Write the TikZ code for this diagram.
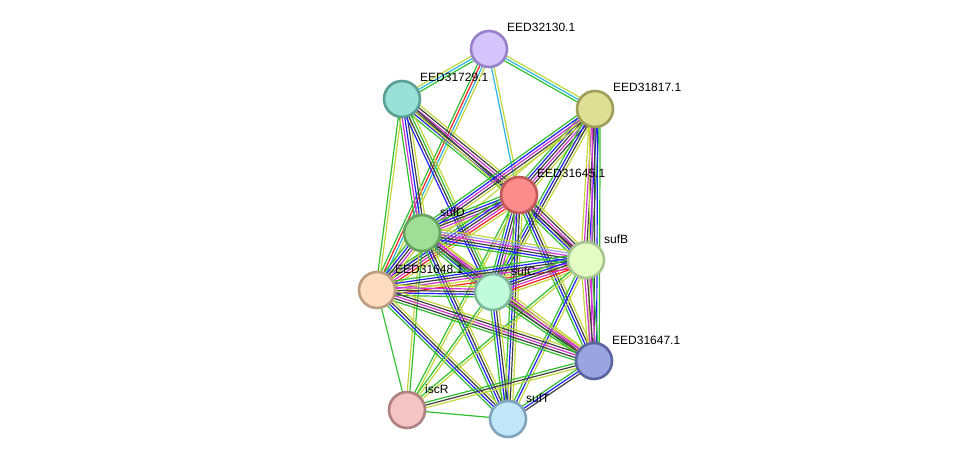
\documentclass[tikz,border=0pt]{standalone}
\usepackage{fontspec}
\setmainfont{Liberation Sans}
\usetikzlibrary{calc,backgrounds}
\definecolor{eg}{HTML}{2FC02F}
\definecolor{eb}{HTML}{2020FF}
\definecolor{ek}{HTML}{404040}
\definecolor{em}{HTML}{D233D2}
\definecolor{ey}{HTML}{C2D63A}
\definecolor{ec}{HTML}{2AB4E0}
\definecolor{er}{HTML}{FF2020}
\definecolor{ep}{HTML}{9E9EF5}
\tikzset{
  prot/.style={circle, minimum size=36pt, inner sep=0pt, line width=2.6pt},
  plabel/.style={anchor=base west, font=\fontsize{12pt}{14pt}\selectfont, text=black, inner sep=0pt},
  elink/.style={line width=1.2pt}
}
\newcommand\sedge[4]{%
  \foreach \col [count=\ii] in {#4}{%
    \pgfmathsetmacro\off{(\ii-(#3+1)/2)*2.6}%
    \draw[elink, color=e\col] ($(#1)!\off pt!90:(#2)$) -- ($(#2)!\off pt!-90:(#1)$);
  }}
\begin{document}
\begin{tikzpicture}[x=1pt,y=-1pt]
\useasboundingbox (0,0) rectangle (976,465);
% nodes
\node[prot, fill={rgb,255:red,212;green,196;blue,252}, draw={rgb,255:red,150;green,128;blue,200}] (A) at (489,49) {};
\node[prot, fill={rgb,255:red,153;green,224;blue,214}, draw={rgb,255:red,90;green,158;blue,150}] (B) at (402,99) {};
\node[prot, fill={rgb,255:red,222;green,222;blue,148}, draw={rgb,255:red,158;green,158;blue,90}] (C) at (595,109) {};
\node[prot, fill={rgb,255:red,252;green,140;blue,140}, draw={rgb,255:red,192;green,88;blue,88}] (D) at (519,195) {};
\node[prot, fill={rgb,255:red,158;green,222;blue,150}, draw={rgb,255:red,100;green,164;blue,94}] (E) at (422,233) {};
\node[prot, fill={rgb,255:red,226;green,252;blue,196}, draw={rgb,255:red,168;green,196;blue,144}] (F) at (586,260) {};
\node[prot, fill={rgb,255:red,254;green,220;blue,192}, draw={rgb,255:red,188;green,156;blue,128}] (G) at (377,290) {};
\node[prot, fill={rgb,255:red,192;green,252;blue,220}, draw={rgb,255:red,128;green,184;blue,156}] (H) at (493,292) {};
\node[prot, fill={rgb,255:red,154;green,164;blue,224}, draw={rgb,255:red,90;green,100;blue,160}] (I) at (594,361) {};
\node[prot, fill={rgb,255:red,244;green,196;blue,196}, draw={rgb,255:red,176;green,128;blue,128}] (J) at (407,410) {};
\node[prot, fill={rgb,255:red,194;green,230;blue,250}, draw={rgb,255:red,128;green,164;blue,188}] (K) at (508,419) {};
% labels
\node[plabel] (lA) at (507,32) {EED32130.1};
\node[plabel] (lB) at (420,82) {EED31729.1};
\node[plabel] (lC) at (613,92) {EED31817.1};
\node[plabel] (lD) at (537,178) {EED31645.1};
\node[plabel] (lE) at (440,216) {sufD};
\node[plabel] (lF) at (604,243) {sufB};
\node[plabel] (lG) at (395,273) {EED31648.1};
\node[plabel] (lH) at (511,275) {sufC};
\node[plabel] (lI) at (612,344) {EED31647.1};
\node[plabel] (lJ) at (425,393) {iscR};
\node[plabel] (lK) at (526,402) {sufT};
% edges
\begin{pgfonlayer}{background}
\sedge{A}{B}{3}{y,c,g}
\sedge{A}{C}{3}{g,c,y}
\sedge{A}{D}{2}{c,y}
\sedge{A}{G}{4}{g,r,c,y}
\sedge{B}{D}{6}{g,b,k,m,k,y}
\sedge{B}{E}{5}{g,m,b,k,y}
\sedge{B}{G}{2}{g,y}
\sedge{B}{H}{4}{b,k,g,y}
\sedge{B}{F}{2}{y,k}
\sedge{C}{D}{6}{g,b,k,m,k,y}
\sedge{C}{E}{5}{g,b,m,k,y}
\sedge{C}{F}{5}{y,m,k,b,g}
\sedge{C}{I}{5}{y,m,k,b,g}
\sedge{C}{H}{4}{g,b,k,y}
\sedge{C}{G}{1}{y}
\sedge{D}{E}{5}{g,b,k,m,y}
\sedge{D}{F}{6}{g,b,k,m,k,y}
\sedge{D}{G}{6}{g,b,k,m,r,y}
\sedge{D}{H}{5}{g,b,k,m,y}
\sedge{D}{I}{4}{g,b,k,y}
\sedge{D}{K}{4}{g,b,k,y}
\sedge{D}{J}{2}{g,y}
\sedge{E}{F}{6}{g,b,k,m,p,y}
\sedge{E}{G}{5}{g,b,k,m,y}
\sedge{E}{H}{5}{g,b,k,m,y}
\sedge{E}{I}{4}{g,k,m,y}
\sedge{E}{K}{4}{g,b,k,y}
\sedge{E}{J}{2}{y,g}
\sedge{F}{G}{6}{g,b,k,m,y,r}
\sedge{F}{H}{6}{g,b,k,m,r,y}
\sedge{F}{I}{5}{y,m,k,m,g}
\sedge{F}{K}{3}{g,b,y}
\sedge{F}{J}{2}{g,y}
\sedge{G}{H}{5}{g,b,k,m,y}
\sedge{G}{I}{5}{g,k,m,k,y}
\sedge{G}{K}{4}{g,b,k,y}
\sedge{G}{J}{1}{g}
\sedge{H}{I}{4}{g,k,m,y}
\sedge{H}{K}{4}{g,b,k,y}
\sedge{H}{J}{2}{g,y}
\sedge{I}{K}{3}{g,b,k}
\sedge{I}{J}{3}{g,k,y}
\sedge{J}{K}{1}{g}
\end{pgfonlayer}
\end{tikzpicture}
\end{document}
